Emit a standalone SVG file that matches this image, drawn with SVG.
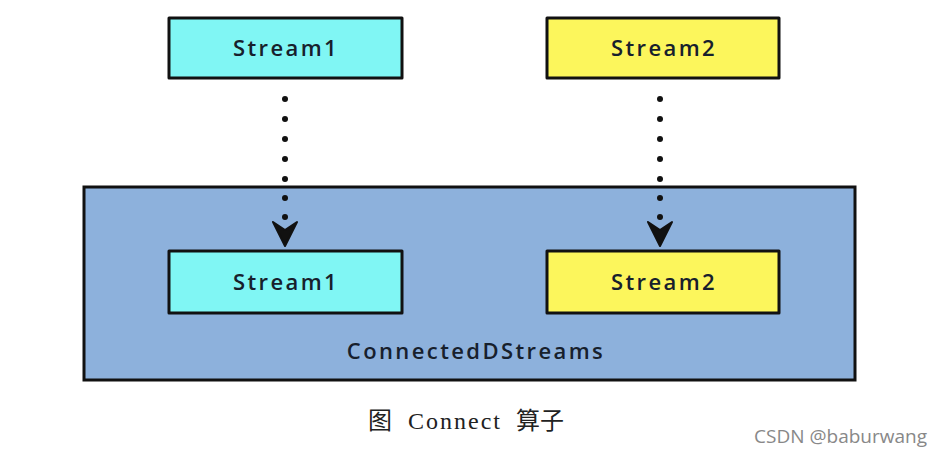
<svg xmlns="http://www.w3.org/2000/svg" width="942" height="456" viewBox="0 0 942 456">
<style>
.box{stroke:#111;stroke-width:3;stroke-linejoin:round}
.cyan{fill:#80f6f4}
.yellow{fill:#fcf65c}
.big{fill:#8db1dc;stroke:#111;stroke-width:3}
.lbl{font-family:"Open Sans","Liberation Sans",sans-serif;font-weight:600;font-size:22px;letter-spacing:2.4px;fill:#17202c;text-anchor:middle}
.dot{fill:#111}
.cap{font-family:"Liberation Serif","Noto Sans CJK SC",serif;font-size:24px;fill:#222}
</style>
<defs>
<path id="ah" d="M-12,-11 L0,-3 L12,-11 L0,13 Z" fill="#111" stroke="#111" stroke-width="2" stroke-linejoin="round"/>
</defs>
<rect width="942" height="456" fill="#fff"/>
<g id="connected">
<rect class="big" x="84" y="187" width="771" height="193"/>
<text class="lbl" x="476" y="359">ConnectedDStreams</text>
</g>
<g id="s1top">
<rect class="box cyan" x="169" y="18" width="233" height="60"/>
<text class="lbl" x="286" y="56">Stream1</text>
</g>
<g id="s2top">
<rect class="box yellow" x="547" y="18" width="232" height="60"/>
<text class="lbl" x="664" y="56">Stream2</text>
</g>
<g id="s1in">
<rect class="box cyan" x="169" y="251" width="233" height="62"/>
<text class="lbl" x="286" y="290">Stream1</text>
</g>
<g id="s2in">
<rect class="box yellow" x="547" y="251" width="232" height="62"/>
<text class="lbl" x="664" y="290">Stream2</text>
</g>
<g id="connectors">
<g class="dot">
<circle cx="285" cy="99" r="3"/><circle cx="285" cy="119" r="3"/><circle cx="285" cy="139" r="3"/><circle cx="285" cy="159" r="3"/><circle cx="285" cy="179" r="3"/><circle cx="285" cy="198" r="3"/><circle cx="285" cy="217" r="3"/>
<circle cx="660" cy="99" r="3"/><circle cx="660" cy="119" r="3"/><circle cx="660" cy="139" r="3"/><circle cx="660" cy="159" r="3"/><circle cx="660" cy="179" r="3"/><circle cx="660" cy="198" r="3"/><circle cx="660" cy="217" r="3"/>
</g>
<use href="#ah" x="285" y="233"/>
<use href="#ah" x="660" y="233"/>
</g>
<text class="cap" x="368" y="429">图</text>
<text class="cap" x="408" y="429" letter-spacing="2">Connect</text>
<text class="cap" x="516" y="429">算子</text>
<text x="927" y="443" font-family="'Open Sans','Liberation Sans',sans-serif" font-size="19" fill="#888" text-anchor="end">CSDN @baburwang</text>
</svg>
